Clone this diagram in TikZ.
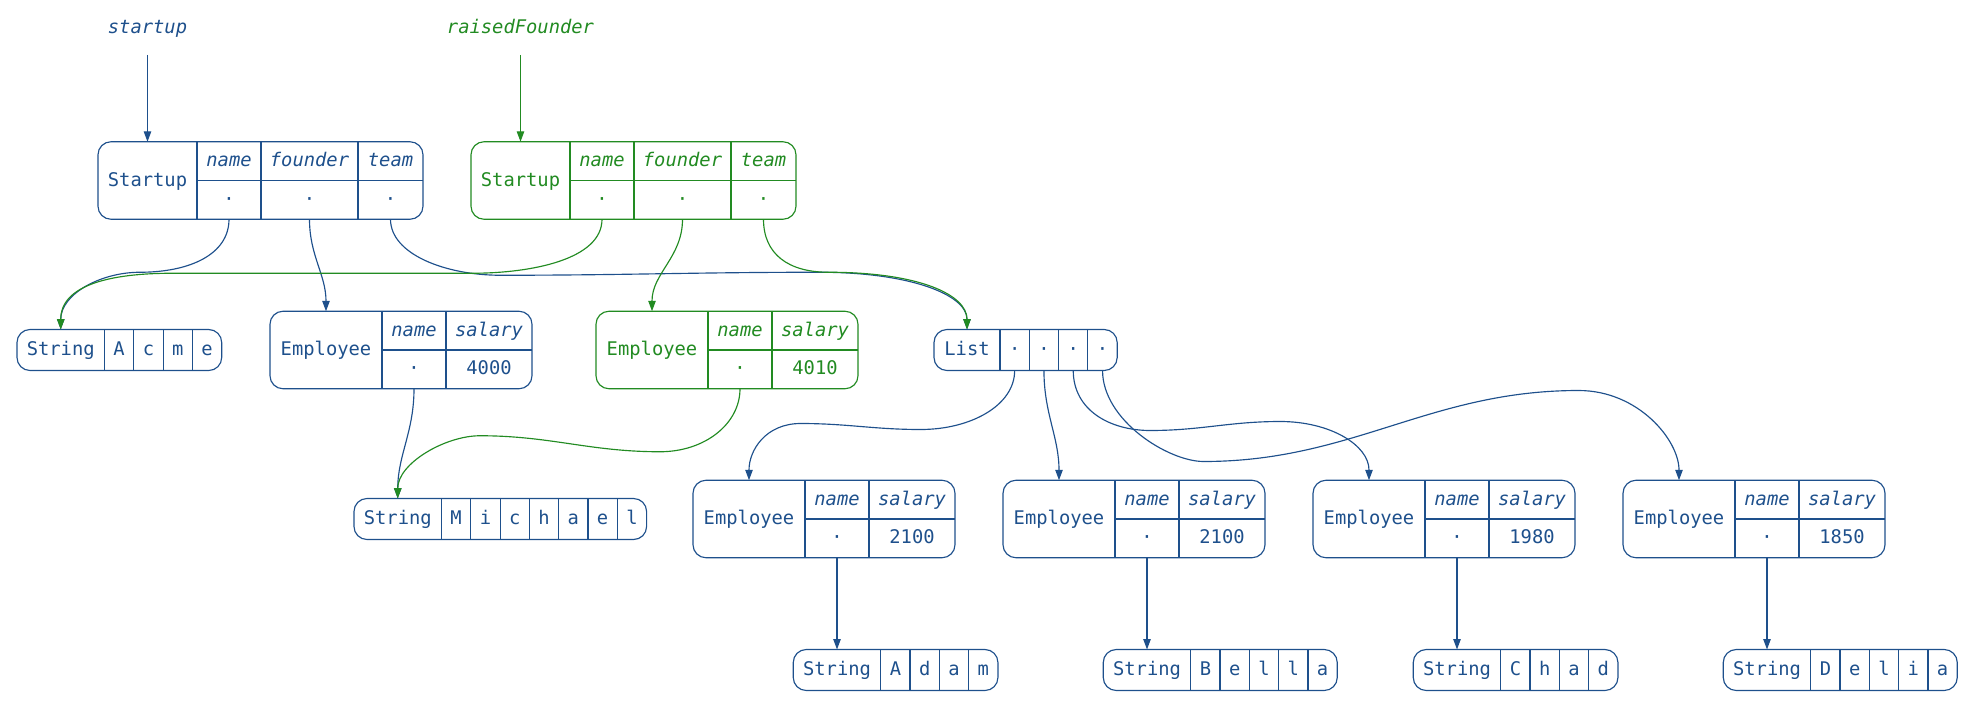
\documentclass[tikz,border=0pt]{standalone}
\usepackage{fontspec}
\setmainfont{DejaVu Sans Mono}
\usetikzlibrary{positioning}
\usetikzlibrary{arrows.meta}

\definecolor{objblue}{RGB}{30,80,140}
\definecolor{objgreen}{RGB}{34,139,34}

\begin{document}
\begin{tikzpicture}
  [x=1pt, y=1pt, line width=1.15pt,
   every node/.style = {inner sep=0pt, outer sep=0pt, text height=14.5pt, text depth=3.5pt,
                        font=\fontsize{18.8}{22}\selectfont},
   typecell/.style = {minimum height=77.5pt},
   head/.style = {anchor=south west, minimum height=38.75pt, font=\fontsize{18.8}{22}\selectfont\itshape},
   val/.style = {anchor=north west, minimum height=38.75pt},
   strtype/.style = {minimum height=41pt},
   chrcell/.style = {minimum width=29.3pt, minimum height=41pt},
   rec/.style = {rounded corners=13pt},
   ref/.style = {-{Triangle[length=10.5pt, width=7.5pt]}},
   varname/.style = {minimum height=54pt, font=\fontsize{18.8}{22}\selectfont\itshape}]
  \useasboundingbox (0,0) rectangle (1973,-701);

  % variables
  \node[varname, objblue] (startup) at (147.5,-28) {startup};
  \node[varname, objgreen] (raised) at (520.5,-28) {raisedFounder};

  % startup objects
  \foreach \obj/\x/\col in {s1/147.5/objblue, s2/520.5/objgreen} {
    \begin{scope}[color=\col]
      \node[typecell, minimum width=99] (\obj) at (\x,-180.5) {Startup};
      \foreach \fld/\off/\w in {name/0/64, founder/64/97, team/161/65} {
        \node[head, minimum width=\w] (\obj-\fld) at ([xshift=\off]\obj.east) {\fld};
        \node[val, minimum width=\w] (\obj-\fld-v) at ([xshift=\off]\obj.east) {·};
        \draw (\obj-\fld.north west) -- (\obj-\fld-v.south west);
      }
      \draw (\obj.east) -- (\obj-team.south east);
      \draw[rec] (\obj.north west) rectangle (\obj-team-v.south east);
    \end{scope}
  }

  % employee objects
  \foreach \obj/\x/\y/\sal/\col in {e0/326/-350/4000/objblue, e1/652/-350/4010/objgreen,
      ea/749/-519/2100/objblue, eb/1059/-519/2100/objblue,
      ec/1369/-519/1980/objblue, ed/1679/-519/1850/objblue} {
    \begin{scope}[color=\col]
      \node[typecell, minimum width=112] (\obj) at (\x,\y) {Employee};
      \node[head, minimum width=64] (\obj-name) at (\obj.east) {name};
      \node[val, minimum width=64] (\obj-name-v) at (\obj.east) {·};
      \node[head, minimum width=86] (\obj-salary) at (\obj-name.south east) {salary};
      \node[val, minimum width=86] (\obj-salary-v) at (\obj-name.south east) {\sal};
      \draw (\obj.north east) -- (\obj.south east)
            (\obj-salary.north west) -- (\obj-salary-v.south west)
            (\obj.east) -- (\obj-salary.south east);
      \draw[rec] (\obj.north west) rectangle (\obj-salary-v.south east);
    \end{scope}
  }

  % strings and the list
  \begin{scope}[color=objblue]
    \foreach \obj/\tp/\w/\x/\y/\k/\chars in {acme/String/87.5/60.75/-350/4/{A,c,m,e},
        list/List/66/967/-350/4/{·,·,·,·},
        michael/String/87.5/397.75/-519/7/{M,i,c,h,a,e,l},
        adam/String/87.5/837/-670/4/{A,d,a,m},
        bella/String/87.5/1147/-670/5/{B,e,l,l,a},
        chad/String/87.5/1457/-670/4/{C,h,a,d},
        delia/String/87.5/1767/-670/5/{D,e,l,i,a}} {
      \node[strtype, minimum width=\w] (\obj) at (\x,\y) {\tp};
      \foreach \ch [count=\i] in \chars {
        \node[chrcell] (\obj-\i) at ([xshift={(\i-0.5)*29.3}]\obj.east) {\ch};
        \draw (\obj-\i.north west) -- (\obj-\i.south west);
      }
      \draw[rec] (\obj.north west) rectangle (\obj-\k.south east);
    }
  \end{scope}

  % blue references
  \begin{scope}[color=objblue]
    \draw[ref] (startup.south) -- (s1.north);
    \draw[ref] (s1-name-v.south) to[out=-90, in=0, out distance=35pt, in distance=50pt] ++(-89,-53)
      to[out=180, in=90, out distance=40pt, in distance=35pt] (acme.north);
    \draw[ref] (s1-founder-v.south) to[out=-90, in=90] (e0.north);
    \draw[ref] (s1-team-v.south) to[out=-90, in=180, out distance=35pt, in distance=55pt] ++(110,-56)
      to[out=0, in=180] ++(319,3)
      to[out=0, in=90, out distance=90pt, in distance=35pt] (list.north);
    \draw[ref] (e0-name-v.south) to[out=-90, in=90] (michael.north);
    \draw[ref] (list-1.south) to[out=-90, in=0, out distance=35pt, in distance=50pt] ++(-94,-59)
      to[out=180, in=0] ++(-120,6)
      to[out=180, in=90, out distance=35pt, in distance=30pt] (ea.north);
    \draw[ref] (list-2.south) to[out=-90, in=90] (eb.north);
    \draw[ref] (list-3.south) to[out=-90, in=180, out distance=40pt, in distance=40pt] ++(77,-60)
      to[out=0, in=180] ++(130,9)
      to[out=0, in=90, out distance=50pt, in distance=35pt] (ec.north);
    \draw[ref] (list-4.south) to[out=-90, in=180, out distance=50pt, in distance=35pt] ++(101,-91)
      to[out=0, in=180] ++(375,71)
      to[out=0, in=90, out distance=60pt, in distance=40pt] (ed.north);
    \foreach \e/\s in {ea/adam, eb/bella, ec/chad, ed/delia}
      \draw[ref] (\e-name-v.south) -- (\s.north);
  \end{scope}

  % green references
  \begin{scope}[color=objgreen]
    \draw[ref] (raised.south) -- (s2.north);
    \draw[ref] (s2-name-v.south) to[out=-90, in=0, out distance=40pt, in distance=60pt] ++(-130,-54)
      -- ++(-300,0)
      to[out=180, in=90, out distance=60pt, in distance=45pt] (acme.north);
    \draw[ref] (s2-founder-v.south) to[out=-90, in=90] (e1.north);
    \draw[ref] (s2-team-v.south) to[out=-90, in=180, out distance=35pt, in distance=40pt] ++(65,-53)
      to[out=0, in=90, out distance=90pt, in distance=35pt] (list.north);
    \draw[ref] (e1-name-v.south) to[out=-90, in=0, out distance=35pt, in distance=45pt] ++(-80,-63)
      to[out=180, in=0] ++(-180,16)
      to[out=180, in=90, out distance=35pt, in distance=35pt] (michael.north);
  \end{scope}
\end{tikzpicture}
\end{document}
